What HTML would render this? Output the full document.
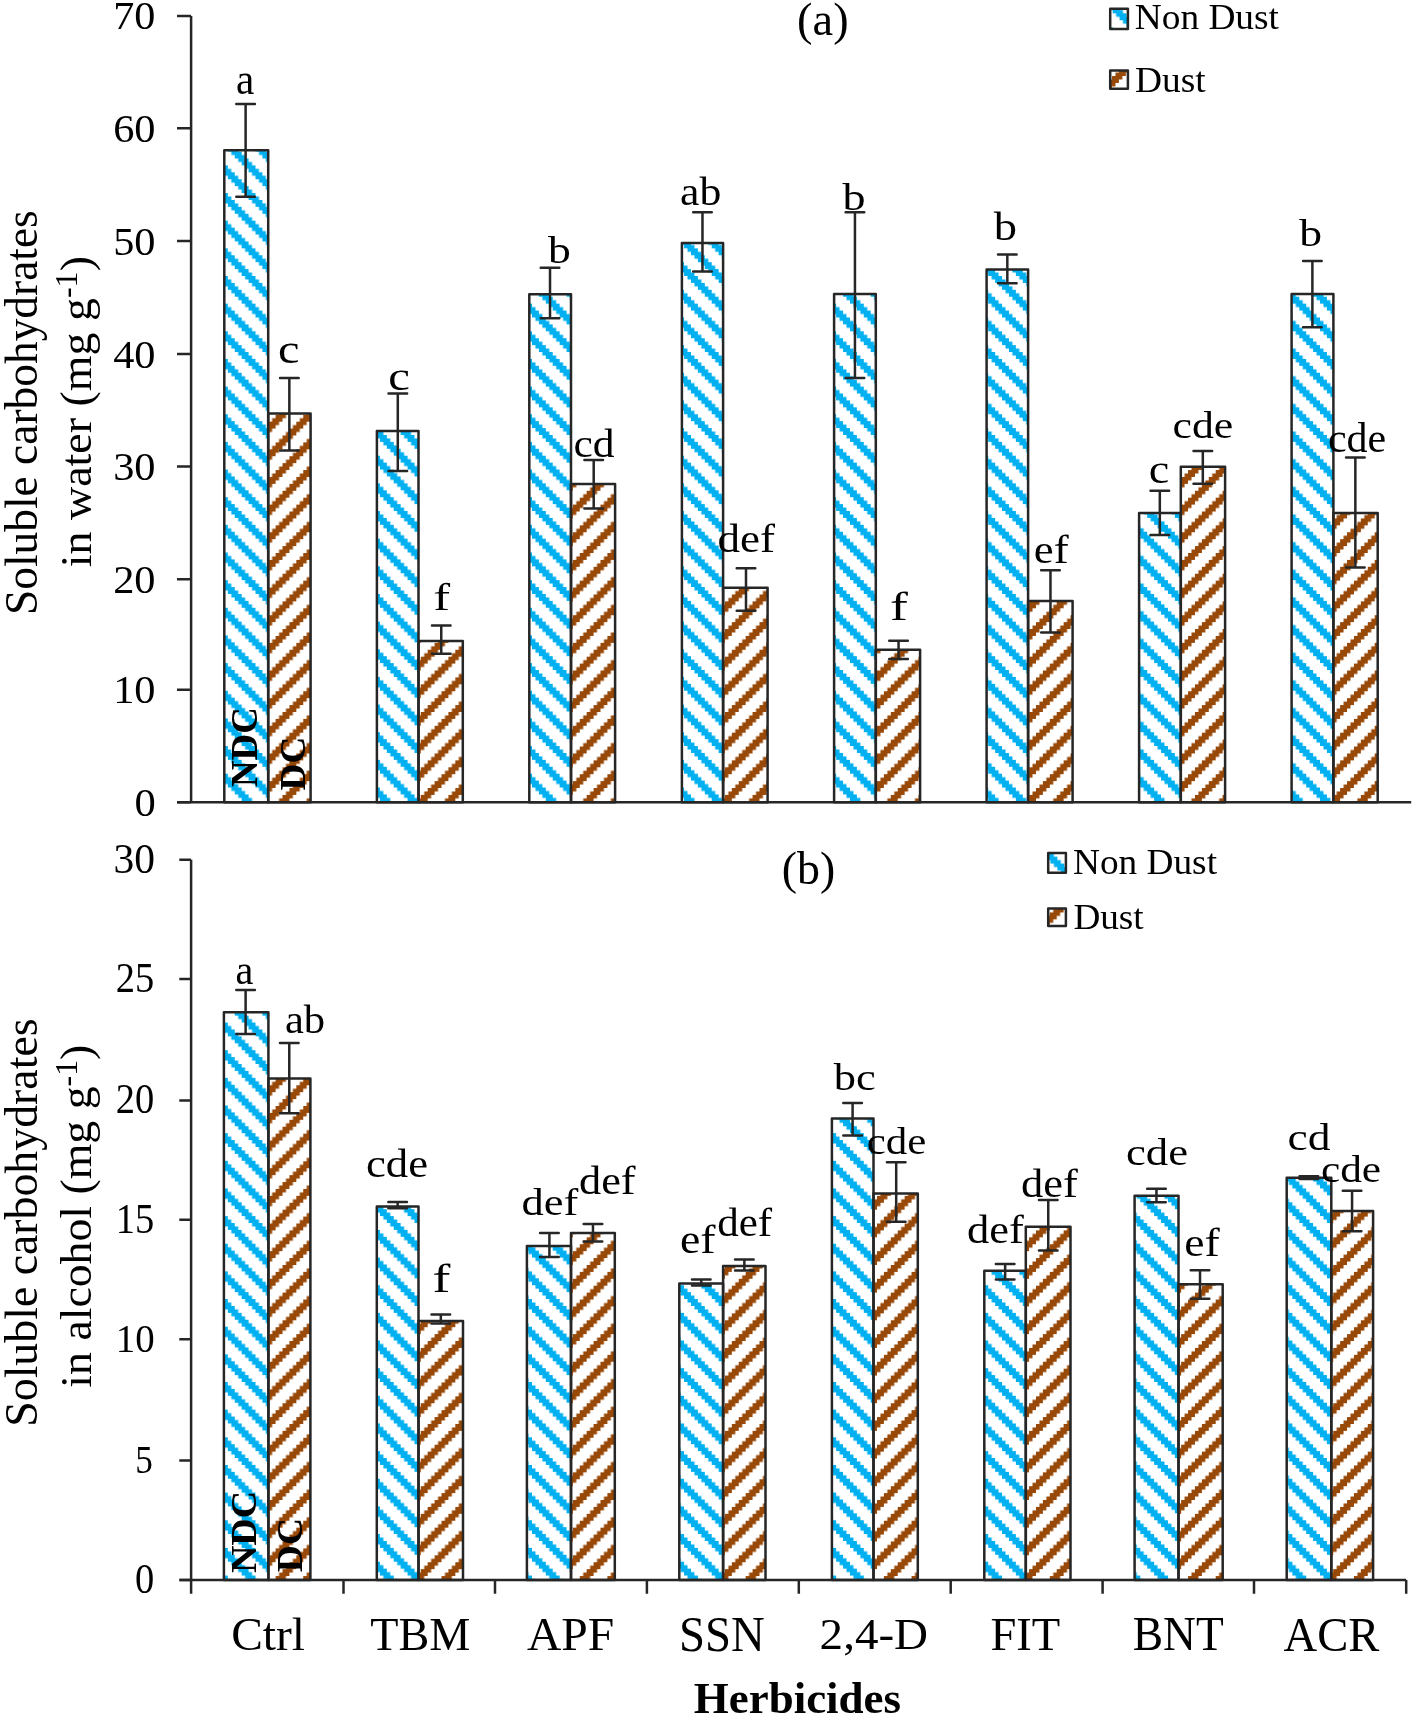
<!DOCTYPE html><html><head><meta charset="utf-8"><style>html,body{margin:0;padding:0;background:#fff;overflow:hidden;width:1416px;height:1718px}svg{display:block;will-change:transform}text{font-family:"Liberation Serif",serif;fill:#000}</style></head><body><svg width="1416" height="1718" viewBox="0 0 1416 1718"><rect width="1416" height="1718" fill="#fff"/><defs><pattern id="pb" patternUnits="userSpaceOnUse" x="-0.27" y="-0.5" width="27.65" height="27.65"><path d="M0 0h3.46v3.46h-3.46zM0 3.46h3.46v3.46h-3.46zM0 24.19h3.46v3.46h-3.46zM3.46 0h3.46v3.46h-3.46zM3.46 3.46h3.46v3.46h-3.46zM3.46 6.91h3.46v3.46h-3.46zM6.91 3.46h3.46v3.46h-3.46zM6.91 6.91h3.46v3.46h-3.46zM6.91 10.37h3.46v3.46h-3.46zM10.37 6.91h3.46v3.46h-3.46zM10.37 10.37h3.46v3.46h-3.46zM10.37 13.82h3.46v3.46h-3.46zM13.82 10.37h3.46v3.46h-3.46zM13.82 13.82h3.46v3.46h-3.46zM13.82 17.28h3.46v3.46h-3.46zM17.28 13.82h3.46v3.46h-3.46zM17.28 17.28h3.46v3.46h-3.46zM17.28 20.74h3.46v3.46h-3.46zM20.74 17.28h3.46v3.46h-3.46zM20.74 20.74h3.46v3.46h-3.46zM20.74 24.19h3.46v3.46h-3.46zM24.19 0h3.46v3.46h-3.46zM24.19 20.74h3.46v3.46h-3.46zM24.19 24.19h3.46v3.46h-3.46z" fill="#00b0f0"/></pattern><pattern id="pr" patternUnits="userSpaceOnUse" x="-0.9" y="0" width="27.65" height="27.65"><path d="M0 0h3.46v3.46h-3.46zM0 3.46h3.46v3.46h-3.46zM0 6.91h3.46v3.46h-3.46zM3.46 0h3.46v3.46h-3.46zM3.46 3.46h3.46v3.46h-3.46zM3.46 24.19h3.46v3.46h-3.46zM6.91 0h3.46v3.46h-3.46zM6.91 20.74h3.46v3.46h-3.46zM6.91 24.19h3.46v3.46h-3.46zM10.37 17.28h3.46v3.46h-3.46zM10.37 20.74h3.46v3.46h-3.46zM10.37 24.19h3.46v3.46h-3.46zM13.82 13.82h3.46v3.46h-3.46zM13.82 17.28h3.46v3.46h-3.46zM13.82 20.74h3.46v3.46h-3.46zM17.28 10.37h3.46v3.46h-3.46zM17.28 13.82h3.46v3.46h-3.46zM17.28 17.28h3.46v3.46h-3.46zM20.74 6.91h3.46v3.46h-3.46zM20.74 10.37h3.46v3.46h-3.46zM20.74 13.82h3.46v3.46h-3.46zM24.19 3.46h3.46v3.46h-3.46zM24.19 6.91h3.46v3.46h-3.46zM24.19 10.37h3.46v3.46h-3.46z" fill="#984807"/></pattern></defs><rect x="224.3" y="150.2" width="43.9" height="652" fill="url(#pb)" stroke="#262626" stroke-width="2.5" stroke-linejoin="round"/><rect x="268.2" y="413.5" width="42.4" height="388.7" fill="url(#pr)" stroke="#262626" stroke-width="2.5" stroke-linejoin="round"/><rect x="376.9" y="431" width="41.6" height="371.2" fill="url(#pb)" stroke="#262626" stroke-width="2.5" stroke-linejoin="round"/><rect x="418.5" y="641" width="44.3" height="161.2" fill="url(#pr)" stroke="#262626" stroke-width="2.5" stroke-linejoin="round"/><rect x="529.3" y="294.2" width="41.7" height="508" fill="url(#pb)" stroke="#262626" stroke-width="2.5" stroke-linejoin="round"/><rect x="571" y="484" width="44.1" height="318.2" fill="url(#pr)" stroke="#262626" stroke-width="2.5" stroke-linejoin="round"/><rect x="681.9" y="243" width="41.2" height="559.2" fill="url(#pb)" stroke="#262626" stroke-width="2.5" stroke-linejoin="round"/><rect x="723.1" y="587.8" width="44.5" height="214.4" fill="url(#pr)" stroke="#262626" stroke-width="2.5" stroke-linejoin="round"/><rect x="834.1" y="293.9" width="41.7" height="508.3" fill="url(#pb)" stroke="#262626" stroke-width="2.5" stroke-linejoin="round"/><rect x="875.8" y="649.8" width="44.3" height="152.4" fill="url(#pr)" stroke="#262626" stroke-width="2.5" stroke-linejoin="round"/><rect x="986.6" y="269.6" width="41.5" height="532.6" fill="url(#pb)" stroke="#262626" stroke-width="2.5" stroke-linejoin="round"/><rect x="1028.1" y="601" width="44.5" height="201.2" fill="url(#pr)" stroke="#262626" stroke-width="2.5" stroke-linejoin="round"/><rect x="1139.1" y="513.1" width="41.7" height="289.1" fill="url(#pb)" stroke="#262626" stroke-width="2.5" stroke-linejoin="round"/><rect x="1180.8" y="466.8" width="44.3" height="335.4" fill="url(#pr)" stroke="#262626" stroke-width="2.5" stroke-linejoin="round"/><rect x="1291.6" y="293.9" width="41.8" height="508.3" fill="url(#pb)" stroke="#262626" stroke-width="2.5" stroke-linejoin="round"/><rect x="1333.4" y="513" width="44.3" height="289.2" fill="url(#pr)" stroke="#262626" stroke-width="2.5" stroke-linejoin="round"/><path d="M245.62 104V196.7M236.32 104H254.93M236.32 196.7H254.93" stroke="#262626" stroke-width="2.5" fill="none" stroke-linecap="round"/><path d="M289.35 378.1V450.6M280.05 378.1H298.65M280.05 450.6H298.65" stroke="#262626" stroke-width="2.5" fill="none" stroke-linecap="round"/><path d="M397.8 393.5V470.9M388.5 393.5H407.1M388.5 470.9H407.1" stroke="#262626" stroke-width="2.5" fill="none" stroke-linecap="round"/><path d="M441.25 625.6V653.8M431.95 625.6H450.55M431.95 653.8H450.55" stroke="#262626" stroke-width="2.5" fill="none" stroke-linecap="round"/><path d="M550.02 267.8V318.3M540.73 267.8H559.32M540.73 318.3H559.32" stroke="#262626" stroke-width="2.5" fill="none" stroke-linecap="round"/><path d="M593.7 459.9V508.5M584.4 459.9H603M584.4 508.5H603" stroke="#262626" stroke-width="2.5" fill="none" stroke-linecap="round"/><path d="M702.48 212.2V271.6M693.18 212.2H711.77M693.18 271.6H711.77" stroke="#262626" stroke-width="2.5" fill="none" stroke-linecap="round"/><path d="M746 568.3V610.8M736.7 568.3H755.3M736.7 610.8H755.3" stroke="#262626" stroke-width="2.5" fill="none" stroke-linecap="round"/><path d="M854.95 212.3V378.1M845.65 212.3H864.25M845.65 378.1H864.25" stroke="#262626" stroke-width="2.5" fill="none" stroke-linecap="round"/><path d="M898.55 640.8V658.9M889.25 640.8H907.85M889.25 658.9H907.85" stroke="#262626" stroke-width="2.5" fill="none" stroke-linecap="round"/><path d="M1007.32 254.4V283.2M998.02 254.4H1016.62M998.02 283.2H1016.62" stroke="#262626" stroke-width="2.5" fill="none" stroke-linecap="round"/><path d="M1050.47 570.3V632.4M1041.17 570.3H1059.77M1041.17 632.4H1059.77" stroke="#262626" stroke-width="2.5" fill="none" stroke-linecap="round"/><path d="M1159.82 490.8V534.9M1150.52 490.8H1169.12M1150.52 534.9H1169.12" stroke="#262626" stroke-width="2.5" fill="none" stroke-linecap="round"/><path d="M1202.82 451.1V483.8M1193.52 451.1H1212.12M1193.52 483.8H1212.12" stroke="#262626" stroke-width="2.5" fill="none" stroke-linecap="round"/><path d="M1312.38 261V327.3M1303.08 261H1321.67M1303.08 327.3H1321.67" stroke="#262626" stroke-width="2.5" fill="none" stroke-linecap="round"/><path d="M1355.35 457.5V567.4M1346.05 457.5H1364.65M1346.05 567.4H1364.65" stroke="#262626" stroke-width="2.5" fill="none" stroke-linecap="round"/><path d="M191.1 15.9V802.2" stroke="#262626" stroke-width="2.5" fill="none"/><path d="M177 802.2H191.1M177 689.8H191.1M177 579.2H191.1M177 466.5H191.1M177 354H191.1M177 241.05H191.1M177 128.3H191.1M177 15.9H191.1" stroke="#262626" stroke-width="2.5" fill="none"/><path d="M177.2 802.2H1411.2" stroke="#262626" stroke-width="2.5" fill="none"/><text id="t_a_tick0" transform="translate(155.7,815.9) scale(1.0861,1)" font-size="39.23" text-anchor="end">0</text><text id="t_a_tick1" transform="translate(155.55,703.3) scale(1.0686,1)" font-size="39.68" text-anchor="end">10</text><text id="t_a_tick2" transform="translate(155.55,592.7) scale(1.0686,1)" font-size="39.68" text-anchor="end">20</text><text id="t_a_tick3" transform="translate(155.55,480) scale(1.0686,1)" font-size="39.68" text-anchor="end">30</text><text id="t_a_tick4" transform="translate(155.55,367.5) scale(1.0686,1)" font-size="39.68" text-anchor="end">40</text><text id="t_a_tick5" transform="translate(155.55,254.55) scale(1.0686,1)" font-size="39.68" text-anchor="end">50</text><text id="t_a_tick6" transform="translate(155.55,141.8) scale(1.0686,1)" font-size="39.68" text-anchor="end">60</text><text id="t_a_tick7" transform="translate(155.4,29.2) scale(1.0512,1)" font-size="40.13" text-anchor="end">70</text><text id="t_a_let0" transform="translate(245.1,94.2) scale(0.9177,1)" font-size="44.81" text-anchor="middle">a</text><text id="t_a_let1" transform="translate(288.8,363.35) scale(1.1674,1)" font-size="41.46" text-anchor="middle">c</text><text id="t_a_let2" transform="translate(399,390.05) scale(1.2383,1)" font-size="39.38" text-anchor="middle">c</text><text id="t_a_let3" transform="translate(441.7,609.8) scale(1.3034,1)" font-size="38.88" text-anchor="middle">f</text><text id="t_a_let4" transform="translate(559.5,263) scale(1.1748,1)" font-size="38.88" text-anchor="middle">b</text><text id="t_a_let5" transform="translate(593.9,457.15) scale(1.0788,1)" font-size="40.32" text-anchor="middle">cd</text><text id="t_a_let6" transform="translate(700.7,205.1) scale(1.1100,1)" font-size="39.42" text-anchor="middle">ab</text><text id="t_a_let7" transform="translate(746.2,551.75) scale(1.1365,1)" font-size="39.69" text-anchor="middle">def</text><text id="t_a_let8" transform="translate(853.9,209.95) scale(1.2188,1)" font-size="37.83" text-anchor="middle">b</text><text id="t_a_let9" transform="translate(898.9,620.15) scale(1.3500,1)" font-size="39.69" text-anchor="middle">f</text><text id="t_a_let10" transform="translate(1005.4,240.15) scale(1.1727,1)" font-size="39.69" text-anchor="middle">b</text><text id="t_a_let11" transform="translate(1051.2,562.9) scale(1.1382,1)" font-size="39.42" text-anchor="middle">ef</text><text id="t_a_let12" transform="translate(1159,483.1) scale(1.1586,1)" font-size="39.79" text-anchor="middle">c</text><text id="t_a_let13" transform="translate(1202.9,438.35) scale(1.1505,1)" font-size="38.08" text-anchor="middle">cde</text><text id="t_a_let14" transform="translate(1310.6,245.95) scale(1.1830,1)" font-size="38.61" text-anchor="middle">b</text><text id="t_a_let15" transform="translate(1357.1,452.35) scale(1.0152,1)" font-size="41.35" text-anchor="middle">cde</text><rect x="223.9" y="1012.3" width="44.5" height="567.6" fill="url(#pb)" stroke="#262626" stroke-width="2.5" stroke-linejoin="round"/><rect x="268.4" y="1078.6" width="42" height="501.3" fill="url(#pr)" stroke="#262626" stroke-width="2.5" stroke-linejoin="round"/><rect x="376.8" y="1206.5" width="41.7" height="373.4" fill="url(#pb)" stroke="#262626" stroke-width="2.5" stroke-linejoin="round"/><rect x="418.5" y="1321" width="44.5" height="258.9" fill="url(#pr)" stroke="#262626" stroke-width="2.5" stroke-linejoin="round"/><rect x="526.9" y="1246" width="44.1" height="333.9" fill="url(#pb)" stroke="#262626" stroke-width="2.5" stroke-linejoin="round"/><rect x="571" y="1233.1" width="43.8" height="346.8" fill="url(#pr)" stroke="#262626" stroke-width="2.5" stroke-linejoin="round"/><rect x="679.3" y="1283.4" width="43.8" height="296.5" fill="url(#pb)" stroke="#262626" stroke-width="2.5" stroke-linejoin="round"/><rect x="723.1" y="1266.1" width="42.4" height="313.8" fill="url(#pr)" stroke="#262626" stroke-width="2.5" stroke-linejoin="round"/><rect x="831.9" y="1118.6" width="41.6" height="461.3" fill="url(#pb)" stroke="#262626" stroke-width="2.5" stroke-linejoin="round"/><rect x="873.5" y="1193.5" width="44.3" height="386.4" fill="url(#pr)" stroke="#262626" stroke-width="2.5" stroke-linejoin="round"/><rect x="984.3" y="1270.8" width="41.5" height="309.1" fill="url(#pb)" stroke="#262626" stroke-width="2.5" stroke-linejoin="round"/><rect x="1025.8" y="1226.7" width="44.7" height="353.2" fill="url(#pr)" stroke="#262626" stroke-width="2.5" stroke-linejoin="round"/><rect x="1134.6" y="1195.8" width="43.9" height="384.1" fill="url(#pb)" stroke="#262626" stroke-width="2.5" stroke-linejoin="round"/><rect x="1178.5" y="1284.2" width="44.2" height="295.7" fill="url(#pr)" stroke="#262626" stroke-width="2.5" stroke-linejoin="round"/><rect x="1286.7" y="1177.8" width="44.6" height="402.1" fill="url(#pb)" stroke="#262626" stroke-width="2.5" stroke-linejoin="round"/><rect x="1331.3" y="1211" width="41.8" height="368.9" fill="url(#pr)" stroke="#262626" stroke-width="2.5" stroke-linejoin="round"/><path d="M245.62 990.1V1034.1M236.32 990.1H254.93M236.32 1034.1H254.93" stroke="#262626" stroke-width="2.5" fill="none" stroke-linecap="round"/><path d="M289.27 1043V1113.3M279.97 1043H298.57M279.97 1113.3H298.57" stroke="#262626" stroke-width="2.5" fill="none" stroke-linecap="round"/><path d="M397.65 1202V1208.3M388.35 1202H406.95M388.35 1208.3H406.95" stroke="#262626" stroke-width="2.5" fill="none" stroke-linecap="round"/><path d="M440.82 1314.6V1323.4M431.52 1314.6H450.12M431.52 1323.4H450.12" stroke="#262626" stroke-width="2.5" fill="none" stroke-linecap="round"/><path d="M549.42 1233.1V1257M540.12 1233.1H558.72M540.12 1257H558.72" stroke="#262626" stroke-width="2.5" fill="none" stroke-linecap="round"/><path d="M592.97 1223.9V1241.4M583.67 1223.9H602.27M583.67 1241.4H602.27" stroke="#262626" stroke-width="2.5" fill="none" stroke-linecap="round"/><path d="M701.28 1279.4V1285.6M691.98 1279.4H710.58M691.98 1285.6H710.58" stroke="#262626" stroke-width="2.5" fill="none" stroke-linecap="round"/><path d="M744.35 1259.4V1270.4M735.05 1259.4H753.65M735.05 1270.4H753.65" stroke="#262626" stroke-width="2.5" fill="none" stroke-linecap="round"/><path d="M852.6 1102.9V1135.4M843.3 1102.9H861.9M843.3 1135.4H861.9" stroke="#262626" stroke-width="2.5" fill="none" stroke-linecap="round"/><path d="M896.2 1162.3V1221.8M886.9 1162.3H905.5M886.9 1221.8H905.5" stroke="#262626" stroke-width="2.5" fill="none" stroke-linecap="round"/><path d="M1005.15 1263.9V1279.5M995.85 1263.9H1014.45M995.85 1279.5H1014.45" stroke="#262626" stroke-width="2.5" fill="none" stroke-linecap="round"/><path d="M1048.25 1200V1250.6M1038.95 1200H1057.55M1038.95 1250.6H1057.55" stroke="#262626" stroke-width="2.5" fill="none" stroke-linecap="round"/><path d="M1156.45 1188.8V1202.2M1147.15 1188.8H1165.75M1147.15 1202.2H1165.75" stroke="#262626" stroke-width="2.5" fill="none" stroke-linecap="round"/><path d="M1200.02 1270.3V1298.8M1190.72 1270.3H1209.32M1190.72 1298.8H1209.32" stroke="#262626" stroke-width="2.5" fill="none" stroke-linecap="round"/><path d="M1308.88 1176.3V1179M1299.58 1176.3H1318.17M1299.58 1179H1318.17" stroke="#262626" stroke-width="2.5" fill="none" stroke-linecap="round"/><path d="M1352.07 1190.8V1231.2M1342.77 1190.8H1361.37M1342.77 1231.2H1361.37" stroke="#262626" stroke-width="2.5" fill="none" stroke-linecap="round"/><path d="M191.1 859.8V1593.7" stroke="#262626" stroke-width="2.5" fill="none"/><path d="M179.3 1579.9H191.1M179.3 1460.6H191.1M179.3 1339.2H191.1M179.3 1219.7H191.1M179.3 1100.4H191.1M179.3 979.1H191.1M179.3 859.8H191.1" stroke="#262626" stroke-width="2.5" fill="none"/><path d="M179.5 1579.9H1406.2" stroke="#262626" stroke-width="2.5" fill="none"/><path d="M343.5 1579.9V1593.7M495 1579.9V1593.7M646.9 1579.9V1593.7M798.8 1579.9V1593.7M950.7 1579.9V1593.7M1102.6 1579.9V1593.7M1254 1579.9V1593.7M1406.2 1579.9V1593.7" stroke="#262626" stroke-width="2.5" fill="none"/><text id="t_b_tick0" transform="translate(154.22,1592.85) scale(0.9329,1)" font-size="41.26" text-anchor="end">0</text><text id="t_b_tick1" transform="translate(152.95,1473.45) scale(0.8562,1)" font-size="41.05" text-anchor="end">5</text><text id="t_b_tick2" transform="translate(154.65,1352.45) scale(0.9474,1)" font-size="41.05" text-anchor="end">10</text><text id="t_b_tick3" transform="translate(154.22,1232.65) scale(0.9329,1)" font-size="41.26" text-anchor="end">15</text><text id="t_b_tick4" transform="translate(154.22,1113.35) scale(0.9329,1)" font-size="41.26" text-anchor="end">20</text><text id="t_b_tick5" transform="translate(154.22,992.05) scale(0.9329,1)" font-size="41.26" text-anchor="end">25</text><text id="t_b_tick6" transform="translate(155.05,872.55) scale(0.9952,1)" font-size="41.68" text-anchor="end">30</text><text id="t_b_let0" transform="translate(244.4,984.45) scale(0.9402,1)" font-size="42.68" text-anchor="middle">a</text><text id="t_b_let1" transform="translate(305,1033.1) scale(1.0642,1)" font-size="40.04" text-anchor="middle">ab</text><text id="t_b_let2" transform="translate(397,1177.4) scale(1.1190,1)" font-size="39.97" text-anchor="middle">cde</text><text id="t_b_let3" transform="translate(441.4,1291.55) scale(1.3500,1)" font-size="39.69" text-anchor="middle">f</text><text id="t_b_let4" transform="translate(549.9,1215.4) scale(1.1591,1)" font-size="38.35" text-anchor="middle">def</text><text id="t_b_let5" transform="translate(607.3,1194.4) scale(1.0911,1)" font-size="40.61" text-anchor="middle">def</text><text id="t_b_let6" transform="translate(697.7,1253.25) scale(1.1217,1)" font-size="40.89" text-anchor="middle">ef</text><text id="t_b_let7" transform="translate(744.7,1236.25) scale(1.0521,1)" font-size="40.89" text-anchor="middle">def</text><text id="t_b_let8" transform="translate(854.7,1089.65) scale(1.1500,1)" font-size="38.63" text-anchor="middle">bc</text><text id="t_b_let9" transform="translate(896.5,1153.5) scale(1.1027,1)" font-size="38.91" text-anchor="middle">cde</text><text id="t_b_let10" transform="translate(995.5,1242.8) scale(1.1266,1)" font-size="39.47" text-anchor="middle">def</text><text id="t_b_let11" transform="translate(1049.3,1196.85) scale(1.1358,1)" font-size="39.15" text-anchor="middle">def</text><text id="t_b_let12" transform="translate(1157,1164.65) scale(1.1919,1)" font-size="37.52" text-anchor="middle">cde</text><text id="t_b_let13" transform="translate(1201.9,1255.95) scale(1.1659,1)" font-size="39.19" text-anchor="middle">ef</text><text id="t_b_let14" transform="translate(1309,1149.6) scale(1.1867,1)" font-size="38.35" text-anchor="middle">cd</text><text id="t_b_let15" transform="translate(1351,1181.75) scale(1.1386,1)" font-size="38.08" text-anchor="middle">cde</text><text id="t_cat0" transform="translate(268.1,1649.85) scale(1.0257,1)" font-size="46.28" text-anchor="middle">Ctrl</text><text id="t_cat1" transform="translate(420.3,1649.7) scale(0.9913,1)" font-size="46.60" text-anchor="middle">TBM</text><text id="t_cat2" transform="translate(570.6,1649.7) scale(1.0205,1)" font-size="46.60" text-anchor="middle">APF</text><text id="t_cat3" transform="translate(722,1650.7) scale(0.9245,1)" font-size="50.60" text-anchor="middle">SSN</text><text id="t_cat4" transform="translate(873.85,1648.6) scale(1.0452,1)" font-size="45.04" text-anchor="middle">2,4-D</text><text id="t_cat5" transform="translate(1025.35,1649.7) scale(0.9990,1)" font-size="46.60" text-anchor="middle">FIT</text><text id="t_cat6" transform="translate(1178.2,1650.45) scale(0.9457,1)" font-size="48.10" text-anchor="middle">BNT</text><text id="t_cat7" transform="translate(1331.5,1650.7) scale(0.9690,1)" font-size="48.08" text-anchor="middle">ACR</text><text id="t_herb" transform="translate(797.45,1713.1) scale(1.0051,1)" font-size="44.73" font-weight="bold" text-anchor="middle">Herbicides</text><text id="t_pa" transform="translate(822.85,35.45) scale(1.0134,1)" font-size="45.78" text-anchor="middle">(a)</text><text id="t_pb" transform="translate(808.55,884.2) scale(0.9860,1)" font-size="46.47" text-anchor="middle">(b)</text><rect x="1110.2" y="8.8" width="17.7" height="20.3" fill="url(#pb)" stroke="#262626" stroke-width="2.5" stroke-linejoin="round"/><rect x="1110.2" y="70.5" width="17.7" height="18.2" fill="url(#pr)" stroke="#262626" stroke-width="2.5" stroke-linejoin="round"/><text id="t_la1" transform="translate(1134.75,29.4) scale(1.0178,1)" font-size="36.71">Non Dust</text><text id="t_la2" transform="translate(1135.05,92.2) scale(1.0537,1)" font-size="35.52">Dust</text><rect x="1048.2" y="853.1" width="17.7" height="19.7" fill="url(#pb)" stroke="#262626" stroke-width="2.5" stroke-linejoin="round"/><rect x="1048.2" y="908.4" width="17.7" height="17.7" fill="url(#pr)" stroke="#262626" stroke-width="2.5" stroke-linejoin="round"/><text id="t_lb1" transform="translate(1073,873.6) scale(1.0505,1)" font-size="35.52">Non Dust</text><text id="t_lb2" transform="translate(1073.4,929.05) scale(1.0190,1)" font-size="36.52">Dust</text><text id="t_ta1" transform="translate(36.65,412.65) rotate(-90) scale(0.9932,1)" font-size="45.74" text-anchor="middle">Soluble carbohydrates</text><text id="t_ta2" transform="translate(90.65,411.65) rotate(-90) scale(1.0327,1)" font-size="44.49" text-anchor="middle">in water (mg g<tspan dy="-13.5" font-size="31">-1</tspan><tspan dy="13.5">)</tspan></text><text id="t_tb1" transform="translate(36.65,1222.6) rotate(-90) scale(1.0016,1)" font-size="45.74" text-anchor="middle">Soluble carbohydrates</text><text id="t_tb2" transform="translate(90.65,1216.15) rotate(-90) scale(1.0287,1)" font-size="44.49" text-anchor="middle">in alcohol (mg g<tspan dy="-13.5" font-size="31">-1</tspan><tspan dy="13.5">)</tspan></text><text id="t_ndca" transform="translate(257.1,747.15) rotate(-90) scale(0.9974,1)" font-size="37.00" font-weight="bold" text-anchor="middle">NDC</text><text id="t_dca" transform="translate(304.6,763.5) rotate(-90) scale(1.0504,1)" font-size="35.52" font-weight="bold" text-anchor="middle">DC</text><text id="t_ndcb" transform="translate(255.8,1532) rotate(-90) scale(1.0343,1)" font-size="36.71" font-weight="bold" text-anchor="middle">NDC</text><text id="t_dcb" transform="translate(302.2,1545.05) rotate(-90) scale(1.0583,1)" font-size="35.52" font-weight="bold" text-anchor="middle">DC</text></svg></body></html>
